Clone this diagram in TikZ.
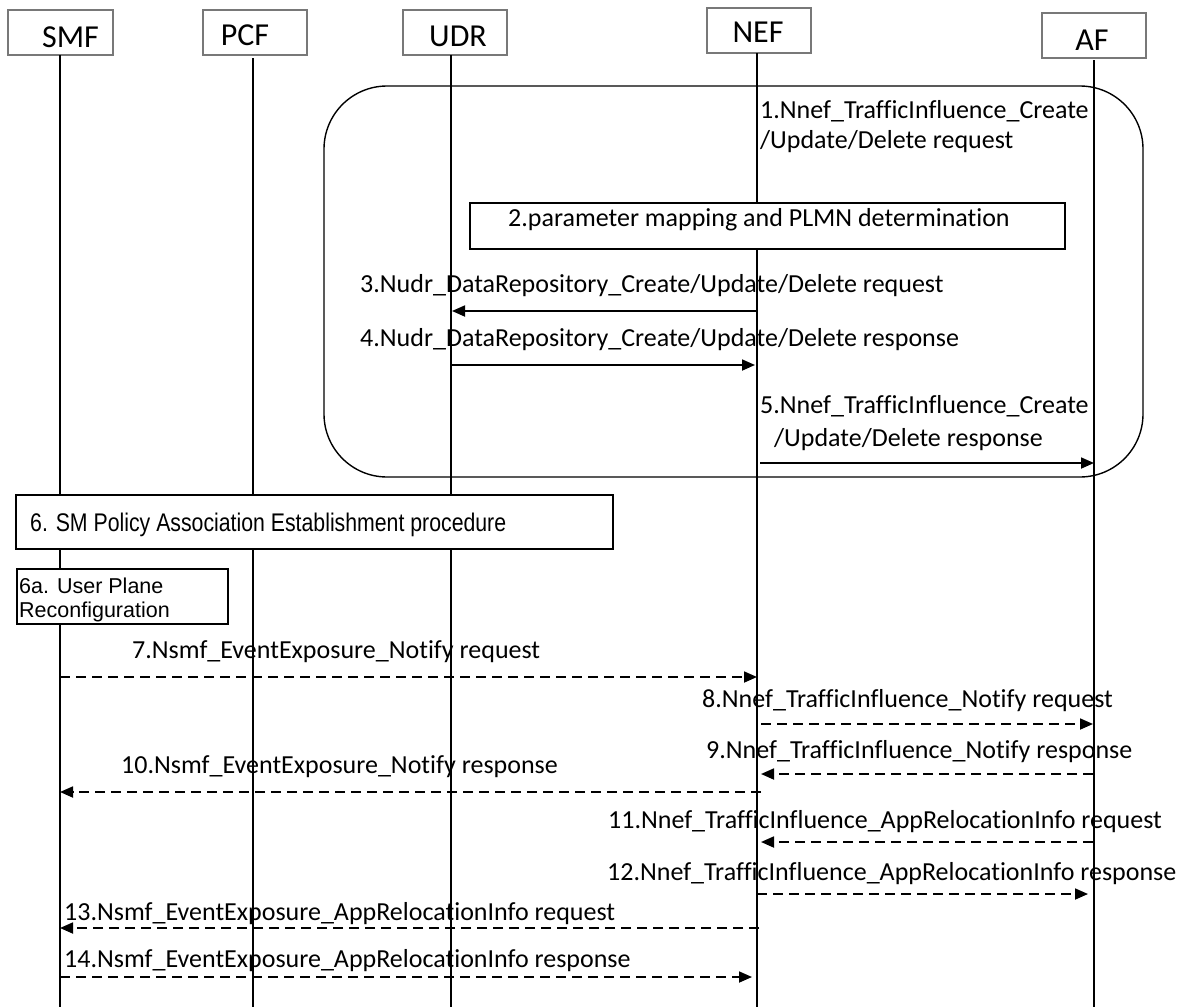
\documentclass[tikz,border=0pt]{standalone}
\usepackage{fontspec}
\setmainfont{Carlito}[Ligatures=NoCommon]
\newfontfamily\arialf{Liberation Sans}
\usetikzlibrary{arrows.meta}
\definecolor{hdrgray}{RGB}{120,120,120}
\begin{document}
\begin{tikzpicture}[x=1pt,y=-1pt,
  hdrbox/.style={draw=hdrgray,line width=1.1pt,minimum height=45pt,inner sep=0pt},
  hdrtxt/.style={anchor=base,inner sep=0pt,font=\fontsize{32}{38}\selectfont},
  life/.style={line width=1.2pt},
  stepbox/.style={draw,line width=1.2pt,fill=white,inner sep=0pt},
  grpbox/.style={draw,line width=1.4pt,rounded corners=63pt,inner sep=0pt},
  lbl/.style={anchor=base west,inner sep=0pt,font=\fontsize{26}{31}\selectfont},
  albl/.style={anchor=base west,inner sep=0pt,font=\arialf\fontsize{21.5}{26}\selectfont},
  msg/.style={line width=1.8pt,-{Triangle[length=13pt,width=11pt]}},
  dmsg/.style={msg,dash pattern=on 10pt off 6pt}]
\useasboundingbox (0,0) rectangle (1184,1007);
\fill[white] (0,0) rectangle (1184,1007);

% header boxes
\node[hdrbox,minimum width=105pt] (smf) at (60.5,32.5) {};
\node[hdrbox,minimum width=104pt] (pcf) at (255,32.5) {};
\node[hdrbox,minimum width=104pt] (udr) at (455,32.5) {};
\node[hdrbox,minimum width=104pt] (nef) at (759,30.5) {};
\node[hdrbox,minimum width=104pt] (af) at (1094,35.5) {};
\node[hdrtxt] (smft) at (70.5,47) {SMF};
\node[hdrtxt] (pcft) at (245,45) {PCF};
\node[hdrtxt] (udrt) at (458,46.5) {UDR};
\node[hdrtxt] (neft) at (758,42) {NEF};
\node[hdrtxt] (aft) at (1092,50) {AF};

% lifelines
\coordinate (smfTop) at (60,55);   \coordinate (smfBot) at (60,1007);
\coordinate (pcfTop) at (253,58);  \coordinate (pcfBot) at (253,1007);
\coordinate (udrTop) at (451,55);  \coordinate (udrBot) at (451,1007);
\coordinate (nefTop) at (757,53);  \coordinate (nefBot) at (757,1007);
\coordinate (afTop) at (1094,60);  \coordinate (afBot) at (1094,1007);
\draw[life] (smfTop) -- (smfBot);
\draw[life] (pcfTop) -- (pcfBot);
\draw[life] (udrTop) -- (udrBot);
\draw[life] (nefTop) -- (nefBot);
\draw[life] (afTop) -- (afBot);

% group box
\node[grpbox,minimum width=819pt,minimum height=391pt] (grp) at (733.5,281.5) {};

% step 1
\node[lbl] (l1a) at (760,118) {1.Nnef\_TrafficInfluence\_Create};
\node[lbl] (l1b) at (760,148) {/Update/Delete request};

% step 2
\node[stepbox,minimum width=595pt,minimum height=46pt] (b2) at (767.5,226) {};
\node[lbl] (l2) at (508,226) {2.parameter mapping and PLMN determination};

% step 3, 4
\node[lbl] (l3) at (360,292) {3.Nudr\_DataRepository\_Create/Update/Delete request};
\coordinate (m3s) at (757,311); \coordinate (m3e) at (452,311);
\draw[msg] (m3s) -- (m3e);
\node[lbl] (l4) at (360,346) {4.Nudr\_DataRepository\_Create/Update/Delete response};
\coordinate (m4s) at (451,365); \coordinate (m4e) at (755,365);
\draw[msg] (m4s) -- (m4e);

% step 5
\node[lbl] (l5a) at (760,413) {5.Nnef\_TrafficInfluence\_Create};
\node[lbl] (l5b) at (774,446) {/Update/Delete response};
\coordinate (m5s) at (760,463); \coordinate (m5e) at (1094,463);
\draw[msg] (m5s) -- (m5e);

% step 6
\node[stepbox,minimum width=597pt,minimum height=54pt] (b6) at (314.5,522) {};
\node[anchor=base west,inner sep=0pt,font=\arialf\fontsize{25.5}{30}\selectfont] (l6) at (30,531)
  {\resizebox{476pt}{\height}{6. SM Policy Association Establishment procedure}};
\node[stepbox,minimum width=211pt,minimum height=55pt] (b6a) at (122.5,596.5) {};
\node[albl] (l6a1) at (19,593) {6a. User Plane};
\node[albl] (l6a2) at (19,617) {Reconfiguration};

% steps 7-14
\node[lbl] (l7) at (132,658) {7.Nsmf\_EventExposure\_Notify request};
\coordinate (m7s) at (60,677); \coordinate (m7e) at (757,677);
\draw[dmsg] (m7s) -- (m7e);

\node[lbl] (l8) at (702,707) {8.Nnef\_TrafficInfluence\_Notify request};
\coordinate (m8s) at (761,724); \coordinate (m8e) at (1093,724);
\draw[dmsg] (m8s) -- (m8e);

\node[lbl] (l9) at (706,758) {9.Nnef\_TrafficInfluence\_Notify response};
\coordinate (m9s) at (1093,774); \coordinate (m9e) at (761,774);
\draw[dmsg] (m9s) -- (m9e);

\node[lbl] (l10) at (121,773) {10.Nsmf\_EventExposure\_Notify response};
\coordinate (m10s) at (761,792); \coordinate (m10e) at (60,792);
\draw[dmsg] (m10s) -- (m10e);

\node[lbl] (l11) at (608,828) {11.Nnef\_TrafficInfluence\_AppRelocationInfo request};
\coordinate (m11s) at (1093,842); \coordinate (m11e) at (761,842);
\draw[dmsg] (m11s) -- (m11e);

\node[lbl] (l12) at (607,880) {12.Nnef\_TrafficInfluence\_AppRelocationInfo response};
\coordinate (m12s) at (757,894); \coordinate (m12e) at (1088,894);
\draw[dmsg] (m12s) -- (m12e);

\node[lbl] (l13) at (64,920) {13.Nsmf\_EventExposure\_AppRelocationInfo request};
\coordinate (m13s) at (759,928); \coordinate (m13e) at (60,928);
\draw[dmsg] (m13s) -- (m13e);

\node[lbl] (l14) at (64,967) {14.Nsmf\_EventExposure\_AppRelocationInfo response};
\coordinate (m14s) at (60,977); \coordinate (m14e) at (752,977);
\draw[dmsg] (m14s) -- (m14e);
\end{tikzpicture}
\end{document}
